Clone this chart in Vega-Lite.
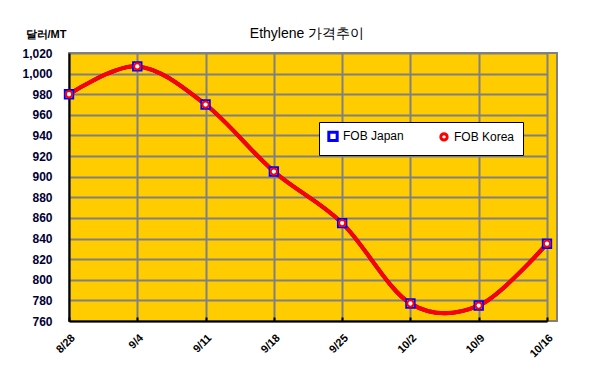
{
  "$schema": "https://vega.github.io/schema/vega-lite/v6.json",
  "width": 488,
  "height": 268,
  "autosize": {"type": "none"},
  "padding": {"left": 69, "top": 53, "right": 33, "bottom": 63},
  "background": "white",
  "title": {
    "text": "Ethylene 가격추이",
    "font": "Liberation Sans",
    "fontSize": 14,
    "fontWeight": "normal",
    "color": "black",
    "anchor": "middle",
    "baseline": "alphabetic",
    "offset": -24,
    "dx": -6
  },
  "config": {
    "view": {"fill": "#FFCC00", "stroke": "#808080", "strokeWidth": 2},
    "font": "Liberation Sans"
  },
  "data": {
    "values": [
      {"date": "8/28", "series": "FOB Japan", "value": 980},
      {"date": "9/4", "series": "FOB Japan", "value": 1007},
      {"date": "9/11", "series": "FOB Japan", "value": 970},
      {"date": "9/18", "series": "FOB Japan", "value": 905},
      {"date": "9/25", "series": "FOB Japan", "value": 855},
      {"date": "10/2", "series": "FOB Japan", "value": 777},
      {"date": "10/9", "series": "FOB Japan", "value": 775},
      {"date": "10/16", "series": "FOB Japan", "value": 835},
      {"date": "8/28", "series": "FOB Korea", "value": 980},
      {"date": "9/4", "series": "FOB Korea", "value": 1007},
      {"date": "9/11", "series": "FOB Korea", "value": 970},
      {"date": "9/18", "series": "FOB Korea", "value": 905},
      {"date": "9/25", "series": "FOB Korea", "value": 855},
      {"date": "10/2", "series": "FOB Korea", "value": 777},
      {"date": "10/9", "series": "FOB Korea", "value": 775},
      {"date": "10/16", "series": "FOB Korea", "value": 835}
    ]
  },
  "encoding": {
    "x": {
      "field": "date",
      "type": "ordinal",
      "sort": null,
      "scale": {"type": "point", "padding": 0, "rangeMax": 478},
      "axis": {
        "title": null,
        "domainColor": "black",
        "domainWidth": 2,
        "ticks": true,
        "tickColor": "black",
        "tickWidth": 2,
        "tickSize": -4,
        "grid": true,
        "gridColor": "#808080",
        "gridWidth": 2,
        "labelAngle": -45,
        "labelAlign": "right",
        "labelBaseline": "middle",
        "labelPadding": 19,
        "labelOffset": 4,
        "labelFont": "Liberation Sans",
        "labelFontSize": 11,
        "labelFontWeight": "bold",
        "labelColor": "black"
      }
    },
    "y": {
      "field": "value",
      "type": "quantitative",
      "scale": {"domain": [760, 1020], "nice": false, "zero": false},
      "axis": {
        "values": [760, 780, 800, 820, 840, 860, 880, 900, 920, 940, 960, 980, 1000, 1020],
        "format": ",d",
        "title": "달러/MT",
        "titleAngle": 0,
        "titleX": -44,
        "titleY": -16,
        "titleAlign": "left",
        "titleBaseline": "alphabetic",
        "titleFont": "Liberation Sans",
        "titleFontSize": 11,
        "titleFontWeight": "bold",
        "titleColor": "black",
        "domainColor": "black",
        "domainWidth": 2,
        "ticks": true,
        "tickOpacity": 0,
        "tickSize": 14,
        "labelPadding": 3,
        "grid": true,
        "gridColor": "#808080",
        "gridWidth": 2,
        "labelFont": "Liberation Sans",
        "labelFontSize": 12,
        "labelFontWeight": "bold",
        "labelColor": "#000033"
      }
    },
    "color": {
      "field": "series",
      "type": "nominal",
      "scale": {"domain": ["FOB Japan", "FOB Korea"], "range": ["#0000FF", "#FF0000"]},
      "legend": {
        "title": null,
        "orient": "none",
        "legendX": 250,
        "legendY": 69,
        "direction": "horizontal",
        "fillColor": "white",
        "strokeColor": "black",
        "padding": 8,
        "labelFont": "Liberation Sans",
        "labelFontSize": 12,
        "labelColor": "black",
        "columnPadding": 30,
        "symbolSize": 60,
        "symbolStrokeWidth": 3,
        "symbolFillColor": "white"
      }
    }
  },
  "layer": [
    {
      "mark": {"type": "line", "interpolate": "cardinal", "strokeWidth": 4}
    },
    {
      "mark": {"type": "point", "filled": false, "fill": "white", "fillOpacity": 1, "strokeWidth": 2, "opacity": 1},
      "encoding": {
        "shape": {
          "field": "series",
          "type": "nominal",
          "scale": {"domain": ["FOB Japan", "FOB Korea"], "range": ["square", "circle"]}
        },
        "size": {
          "field": "series",
          "type": "nominal",
          "scale": {"domain": ["FOB Japan", "FOB Korea"], "range": [70, 40]},
          "legend": null
        }
      }
    }
  ]
}
